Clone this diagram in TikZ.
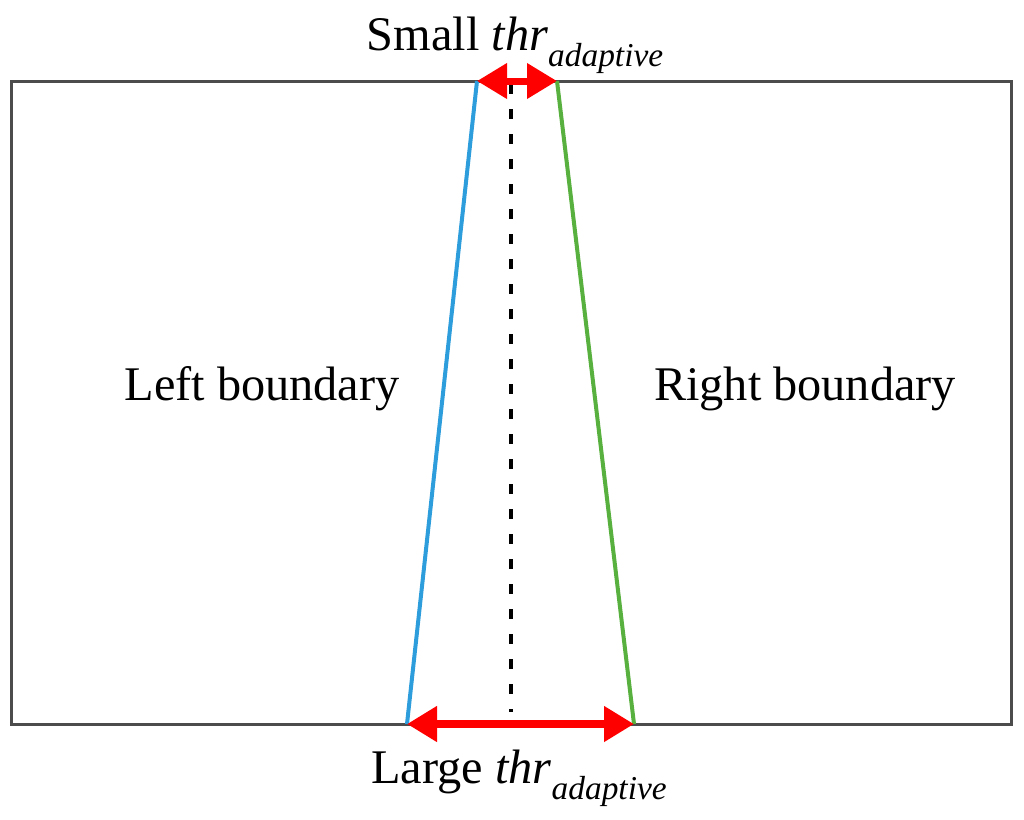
\documentclass[tikz,border=0pt]{standalone}
\usepackage{fontspec}
\setmainfont{Liberation Serif}
\usetikzlibrary{positioning,arrows.meta}
\definecolor{leftblue}{RGB}{45,157,220}
\definecolor{rightgreen}{RGB}{88,176,62}
\def\px{0.02cm}
\tikzstyle{frame}=[draw=black!70,line width=3*\px]
\tikzstyle{label}=[inner sep=0pt,anchor=base,font=\fontsize{27.5}{32}\selectfont]
\tikzstyle{gap}=[red,line width=7*\px,{Triangle[length=30*\px,width=34*\px]}-{Triangle[length=30*\px,width=34*\px]}]
\newcommand{\thrAdaptive}{\textit{thr}\raisebox{-0.35em}{\fontsize{19}{22}\selectfont\textit{adaptive}}}

\begin{document}
\begin{tikzpicture}[x=\px,y=-\px]
      \useasboundingbox (0,0) rectangle (1024,819);
      \draw[frame] (11,81) rectangle (1011,724);
      % boundary ends
      \coordinate (lt) at (477,81);
      \coordinate (lb) at (407,724);
      \coordinate (rt) at (557,81);
      \coordinate (rb) at (634,724);
      \coordinate (mt) at (511,84);
      \coordinate (mb) at (511,712);

      \draw[black,line width=3.5*\px,dash pattern=on 10*\px off 15*\px] (mt) -- (mb);
      \draw[leftblue,line width=4*\px] (lt) -- (lb);
      \draw[rightgreen,line width=4*\px] (rt) -- (rb);

      \draw[gap] (lt) -- (rt);
      \draw[gap,line width=8*\px] (lb) -- (rb);

      \node[label] (small) at (515,50) {Small \thrAdaptive};
      \node[label] (large) at (519,783) {Large \thrAdaptive};
      \node[label] (left) at (262,400) {Left boundary};
      \node[label] (right) at (805,400) {Right boundary};
    \end{tikzpicture}
\end{document}
